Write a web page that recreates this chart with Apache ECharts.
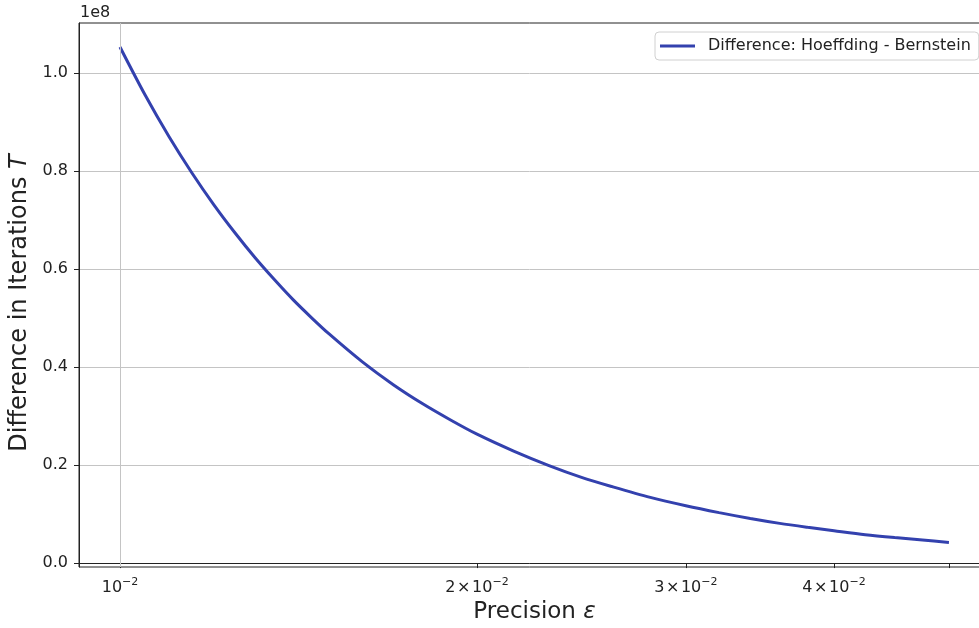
<!DOCTYPE html>
<html>
<head>
<meta charset="utf-8">
<script src="https://cdn.jsdelivr.net/npm/echarts@6/dist/echarts.min.js"></script>
<style>html,body{margin:0;padding:0;background:#fff}#c{width:979px;height:628px}</style>
</head>
<body>
<div id="c"></div>
<script>
// Precision epsilon (x) and difference in iterations T (y)
const epsilon = [0.0100,0.0105,0.0110,0.0115,0.0120,0.0125,0.0130,0.0135,0.0140,0.0145,0.0150,0.0160,0.0170,0.0180,0.0190,0.0200,0.0215,0.0230,0.0245,0.0260,0.0280,0.0300,0.0320,0.0340,0.0360,0.0380,0.0400,0.0425,0.0450,0.0475,0.0500];
const diffT = [1.053e8,0.955e8,0.870e8,0.796e8,0.731e8,0.674e8,0.623e8,0.578e8,0.537e8,0.501e8,0.468e8,0.411e8,0.364e8,0.325e8,0.292e8,0.263e8,0.228e8,0.199e8,0.175e8,0.156e8,0.134e8,0.117e8,0.103e8,0.091e8,0.081e8,0.073e8,0.066e8,0.058e8,0.052e8,0.047e8,0.042e8];
const seriesName = 'Difference: Hoeffding - Bernstein';
const xTickValues = [0.01,0.02,0.03,0.04,0.05];
const xLabelValues = [0.01,0.02,0.03,0.04];
const yTickValues = [0,0.2e8,0.4e8,0.6e8,0.8e8,1.0e8];
const yScaleLabel = '1e8';

const font = 'DejaVu Sans';
const chart = echarts.init(document.getElementById('c'), null, {renderer:'canvas'});
chart.setOption({
  animation:false,
  backgroundColor:'#ffffff',
  textStyle:{fontFamily:font},
  grid:{left:79, top:23, right:-11, bottom:61, outerBoundsMode:'none', containLabel:false,
    show:true, borderColor:'#222', borderWidth:1, backgroundColor:'transparent'},
  graphic:[{type:'text', left:80, top:5, style:{text:yScaleLabel, font:'16px "DejaVu Sans"', fill:'#222'}}],
  legend:{
    left:655, top:32, padding:[6,8,6,5], itemWidth:35, itemHeight:3, itemGap:10,
    borderColor:'#d0d0d0', borderWidth:1, borderRadius:4, backgroundColor:'rgba(255,255,255,0.85)',
    textStyle:{fontFamily:font, fontSize:16, color:'#222', padding:[0,0,0,8]},
    data:[{name:seriesName, icon:'rect'}]
  },
  xAxis:{
    type:'log', logBase:10, min:0.009235, max:0.05415,
    name:'Precision {i|ε}', nameLocation:'middle', nameGap:27,
    nameTextStyle:{fontFamily:font, fontSize:23, color:'#222', rich:{i:{fontFamily:font, fontSize:23, fontStyle:'italic', color:'#222'}}},
    axisLine:{show:true, lineStyle:{color:'#222', width:1}},
    axisTick:{show:true, length:5, inside:false, customValues:xTickValues, lineStyle:{color:'#222'}},
    minorTick:{show:false},
    splitLine:{show:false},
    axisLabel:{
      customValues:xLabelValues, margin:10, color:'#222',
      formatter:function(v){
        const m = Math.round(v/0.01);
        return m===1 ? '{b|10}{s|\u22122}' : '{b|'+m+'\u200a\u00d7\u200a10}{s|\u22122}';
      },
      rich:{
        b:{fontFamily:font, fontSize:16, lineHeight:22, color:'#222'},
        s:{fontFamily:font, fontSize:11, lineHeight:12, verticalAlign:'top', color:'#222'}
      }
    }
  },
  yAxis:{
    type:'value', min:-0.008e8, max:1.102e8,
    name:'Difference in Iterations {i|T}', nameLocation:'middle', nameGap:41,
    nameTextStyle:{fontFamily:font, fontSize:24, color:'#222', padding:[0,16,0,0],
      rich:{i:{fontFamily:font, fontSize:24, fontStyle:'italic', color:'#222'}}},
    axisLine:{show:true, lineStyle:{color:'#222', width:1}},
    axisTick:{show:true, length:5, customValues:yTickValues, lineStyle:{color:'#222'}},
    splitLine:{show:true, lineStyle:{color:'#c4c4c4', width:1}},
    axisLabel:{customValues:yTickValues, margin:11, fontFamily:font, fontSize:16, color:'#222',
      formatter:function(v){return (v/1e8).toFixed(1);}}
  },
  series:[{
    name:seriesName, type:'line', showSymbol:false, symbol:'none', smooth:0.3,
    data:epsilon.map((e,i)=>[e,diffT[i]]),
    lineStyle:{color:'#3341ae', width:3},
    itemStyle:{color:'#3341ae'},
    markLine:{silent:true, symbol:['none','none'], label:{show:false},
      lineStyle:{color:'#c4c4c4', width:1, type:'solid'},
      data:[{xAxis:0.01}]}
  }]
});
</script>
</body>
</html>
